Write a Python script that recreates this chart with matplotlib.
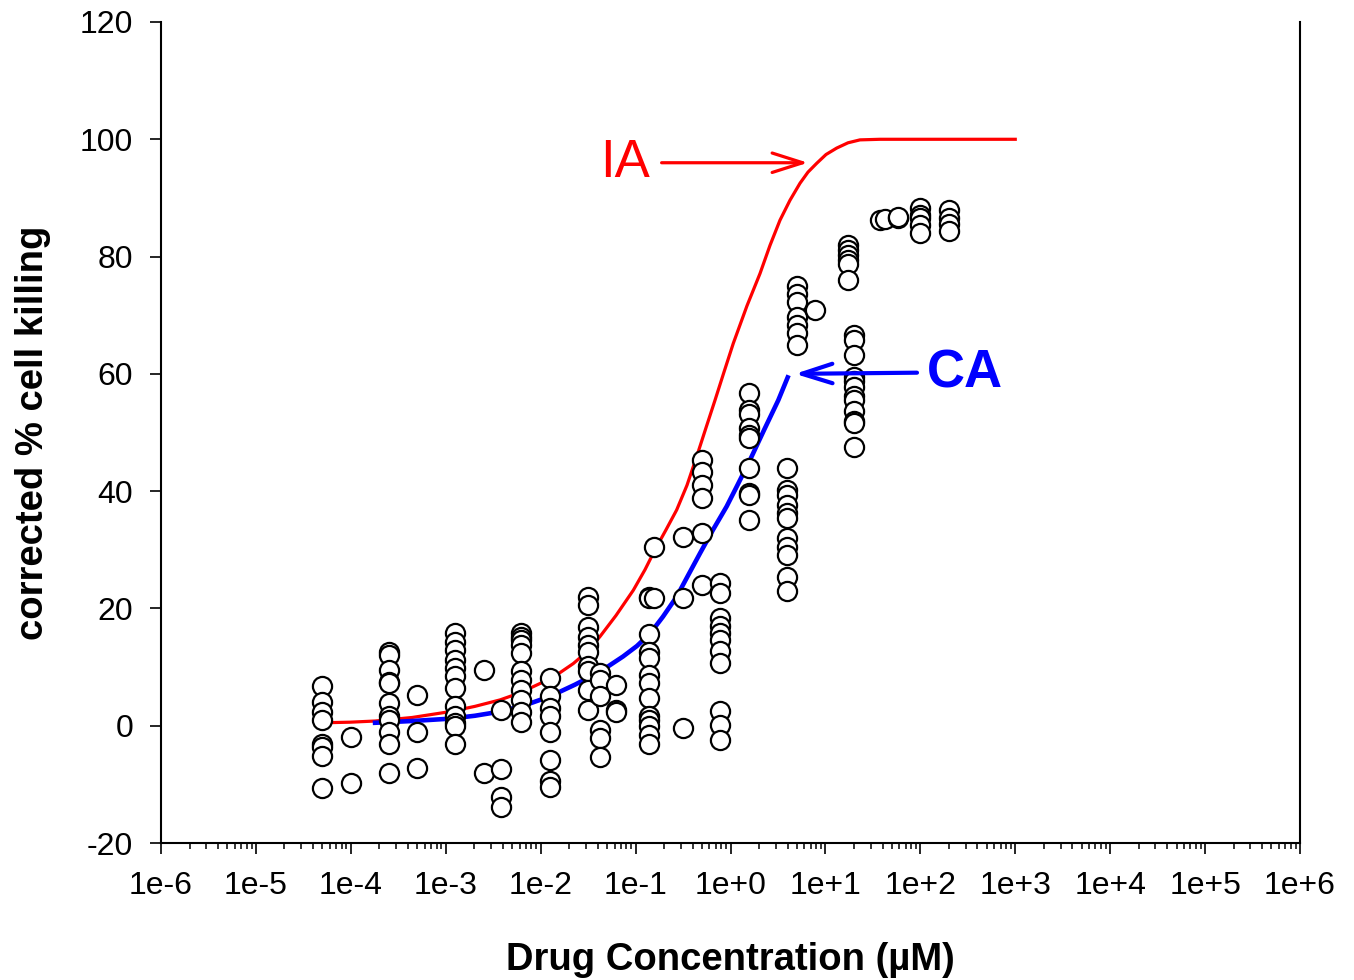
import numpy as np
import matplotlib
matplotlib.use("Agg")
import matplotlib.pyplot as plt
from matplotlib.ticker import LogLocator, FixedLocator, FuncFormatter, NullFormatter

plt.rcParams['font.family'] = ['Liberation Sans', 'DejaVu Sans']
plt.rcParams['axes.unicode_minus'] = False

# measured points: one concentration (µM) per column, list of % killing values
conc = [5e-5, 1e-4, 2.5e-4, 5e-4, 1.25e-3, 2.5e-3, 3.8e-3, 6.25e-3, 1.25e-2,
        3.125e-2, 4.2e-2, 6.25e-2, 0.14, 0.156, 0.3125, 0.5, 0.78, 1.56,
        3.9, 5.0, 7.8, 17.5, 20.0, 37.5, 42.0, 58.0, 100.0, 200.0]
killing = [
    [6.85, 4.1, 2.4, 1.0, -3.1, -3.6, -5.2, -10.6],
    [-1.9, -9.8],
    [12.6, 12.0, 9.5, 7.5, 7.2, 3.8, 1.6, 1.0, -1.0, -3.2, -8.0],
    [5.2, -1.1, -7.2],
    [15.75, 14.3, 12.9, 11.2, 9.8, 8.4, 6.4, 3.3, 1.6, 0.5, -0.1, -3.2],
    [9.5, -8.0],
    [2.6, -7.3, -12.1, -13.8],
    [15.8, 15.2, 14.7, 13.8, 12.4, 9.3, 7.8, 6.1, 4.4, 2.4, 0.7],
    [8.2, 5.1, 3.1, 1.7, -1.0, -5.8, -9.5, -10.4],
    [22.0, 20.6, 16.9, 15.2, 13.8, 12.6, 10.1, 9.3, 6.1, 2.7],
    [9.0, 7.8, 5.0, -0.7, -2.1, -5.3],
    [7.0, 2.7, 2.3],
    [22.0, 21.8, 15.6, 12.6, 11.6, 8.7, 7.3, 4.8, 1.7, 1.0, 0.0, -1.5, -3.2],
    [30.5, 21.8],
    [32.2, 21.8, -0.4],
    [45.3, 43.3, 41.0, 38.8, 32.8, 24.0],
    [24.3, 22.6, 18.4, 17.0, 15.8, 14.7, 12.7, 10.7, 2.5, 0.2, -2.4],
    [56.7, 53.8, 53.2, 50.7, 49.6, 49.0, 43.9, 39.6, 39.3, 35.1],
    [43.9, 40.2, 39.3, 37.6, 36.2, 35.4, 32.0, 30.5, 29.1, 25.4, 22.9],
    [75.0, 73.7, 72.3, 69.7, 68.3, 66.9, 64.9],
    [70.9],
    [82.0, 81.1, 80.3, 79.4, 78.8, 76.0],
    [66.6, 65.8, 63.3, 59.5, 58.8, 57.8, 56.3, 55.5, 53.6, 52.0, 51.6, 47.6],
    [86.2],
    [86.4],
    [86.5, 86.8],
    [88.2, 87.1, 86.5, 85.4, 84.0],
    [87.9, 86.6, 85.5, 84.3],
]

# predicted curves
ia_conc = [5e-5, 9.8e-5, 1.80e-4, 4.41e-4, 1.108e-3, 2.03e-3, 3.73e-3, 6.05e-3,
           9.84e-3, 0.01486, 0.02207, 0.03076, 0.04215, 0.0622, 0.0946, 0.1256,
           0.1601, 0.2091, 0.2710, 0.3479, 0.4402, 0.5517, 0.6865, 0.8538,
           1.070, 1.491, 2.045, 2.606, 3.321, 4.232, 5.395, 6.552, 8.090,
           10.14, 13.14, 17.29, 23.13, 37.57, 1000.0]
ia_kill = [0.5, 0.6, 0.8, 1.4, 2.4, 3.3, 4.4, 5.6,
           7.2, 8.7, 10.6, 12.6, 15.2, 18.8, 23.1, 26.6,
           30.0, 33.4, 36.8, 41.0, 45.9, 50.8, 55.5, 60.3,
           65.2, 71.6, 77.1, 81.9, 86.2, 89.6, 92.5, 94.4, 95.9,
           97.4, 98.5, 99.4, 99.9, 100.0, 100.0]
ca_conc = [1.80e-4, 4.41e-4, 1.108e-3, 2.03e-3, 3.73e-3, 6.84e-3, 0.01254,
           0.02299, 0.04215, 0.0737, 0.1034, 0.1418, 0.1944, 0.2710, 0.3565,
           0.4772, 0.6537, 0.9117, 1.199, 1.604, 2.253, 3.187, 4.004]
ca_kill = [0.5, 0.8, 1.2, 1.7, 2.4, 3.5, 5.0,
           7.0, 9.2, 11.8, 13.6, 15.7, 18.6, 22.0, 25.6,
           29.4, 33.4, 37.4, 41.2, 45.3, 50.4, 55.5, 59.4]

xticks = [1e-6, 1e-5, 1e-4, 1e-3, 1e-2, 1e-1, 1e0, 1e1, 1e2, 1e3, 1e4, 1e5, 1e6]
yticks = [-20, 0, 20, 40, 60, 80, 100, 120]

fig = plt.figure(figsize=(13.54, 9.8), dpi=100)
ax = fig.add_axes([161 / 1354, 1 - 843 / 980, (1300 - 161) / 1354, (843 - 22) / 980])

ax.plot(ia_conc, ia_kill, color='#ff0000', lw=2.3, zorder=2, solid_joinstyle='round')
ax.plot(ca_conc, ca_kill, color='#0000ff', lw=3.3, zorder=2, solid_joinstyle='round')

for c, vals in zip(conc, killing):
    ax.plot([c] * len(vals), vals, 'o', ms=13.8, mfc='white', mec='black', mew=1.6,
            ls='none', zorder=3)

# labels with arrows
ax.text(0.0773, 96.0, 'IA', color='#ff0000', fontsize=38, ha='center', va='center')
ax.annotate('', xy=(6.55, 96.0), xytext=(0.188, 96.0),
            arrowprops=dict(arrowstyle='->,head_length=1.1,head_width=0.35',
                            color='#ff0000', lw=2.3, shrinkA=0, shrinkB=0,
                            mutation_scale=20))
ax.text(295, 60.0, 'CA', color='#0000ff', fontsize=38, fontweight='bold',
        ha='center', va='center')
ax.annotate('', xy=(4.78, 60.0), xytext=(92.2, 60.2),
            arrowprops=dict(arrowstyle='->,head_length=1.1,head_width=0.35',
                            color='#0000ff', lw=3.0, shrinkA=0, shrinkB=0,
                            mutation_scale=20))

ax.set_xscale('log')
ax.set_xlim(1e-6, 1e6)
ax.set_ylim(-20, 120)
ax.xaxis.set_major_locator(FixedLocator(xticks))
ax.xaxis.set_major_formatter(FuncFormatter(lambda v, p: f"1e{int(round(np.log10(v))):+d}"))
ax.xaxis.set_minor_locator(LogLocator(base=10, subs=np.arange(2, 10), numticks=50))
ax.xaxis.set_minor_formatter(NullFormatter())
ax.set_yticks(yticks)

ax.spines['top'].set_visible(False)
for s in ['left', 'bottom', 'right']:
    ax.spines[s].set_linewidth(1.5)
ax.tick_params(axis='both', which='major', direction='out', length=8, width=1.2,
               labelsize=23, pad=12)
ax.tick_params(axis='x', which='minor', direction='out', length=4, width=1.1)
ax.tick_params(right=False, top=False)

ax.set_xlabel('Drug Concentration (µM)', fontsize=27.5, fontweight='bold')
ax.set_ylabel('corrected % cell killing', fontsize=27.5, fontweight='bold')
ax.xaxis.set_label_coords(0.5, -0.121)
ax.yaxis.set_label_coords(-0.097, 0.5)

fig.savefig('out.png', dpi=100)
